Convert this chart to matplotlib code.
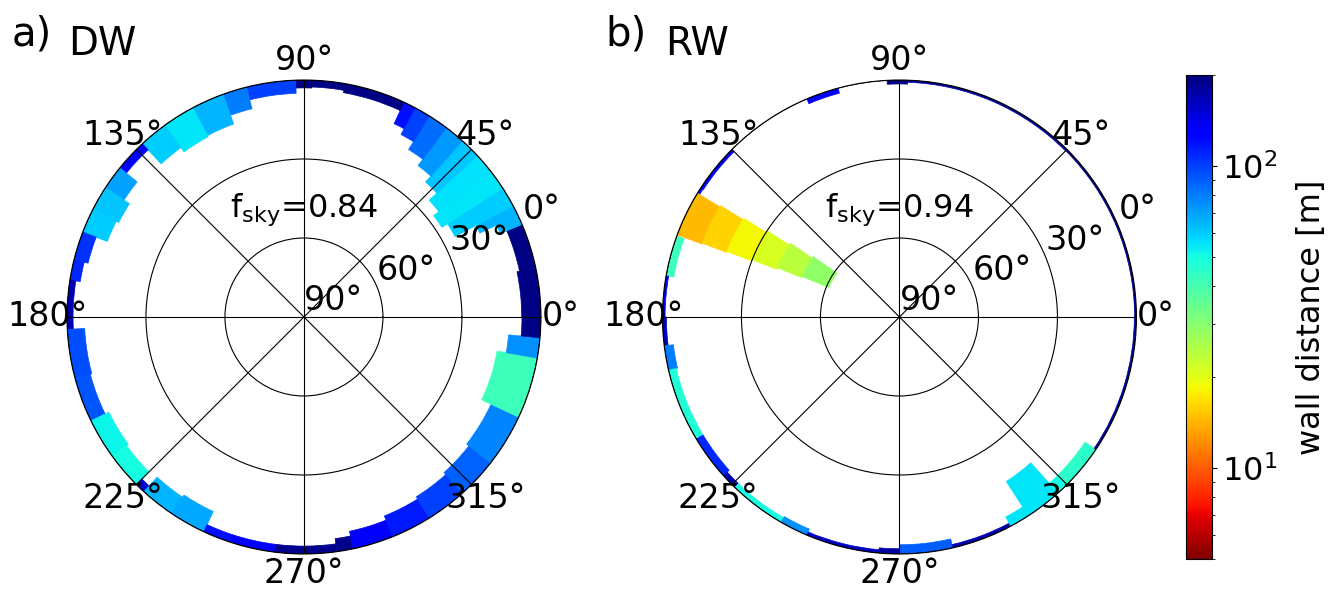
import numpy as np
import matplotlib.pyplot as plt
from matplotlib.colors import LogNorm

# wall segments: azimuth edges [deg], wall top elevation [deg], wall distance [m]
dw_az_edges = [0, 12, 23, 25.5, 28, 33, 38, 43, 48, 53, 58, 62, 65, 80, 88, 92,
               104, 110, 118, 126, 133, 141, 147, 153, 159, 166, 171, 183, 195,
               206, 216, 225, 227.5, 236, 245, 252, 263, 278, 282, 292, 302, 312,
               322, 335, 350, 355, 360]
dw_elev = [7.3, 6.3, 9, 16, 25, 27.5, 25, 21, 18, 15, 11.5, 9, 3.5, 2.6, 3,
           5, 8.5, 12, 12.5, 10.5, 3.2, 8.5, 11, 10, 5.5, 4, 2.3, 6.6,
           6, 7.6, 6.8, 3, 7.5, 8.5, 3, 3, 3, 5, 6.8, 8.5, 9.5,
           10.5, 11.6, 15.5, 12, 7.2]
dw_dist = [195, 195, 65, 65, 60, 55, 56, 62, 72, 85, 100, 120, 195, 195, 200,
           100, 80, 65, 55, 60, 130, 70, 62, 60, 105, 110, 170, 95,
           92, 52, 50, 150, 65, 68, 120, 130, 190, 190, 135, 115, 100,
           88, 78, 42, 75, 195]

rw_az_edges = [0, 45, 88, 93, 105, 113, 135, 147, 149, 160, 170, 180, 187, 193,
               211, 222, 226, 240, 247, 265, 270, 283, 298, 303, 312, 315, 326, 360]
rw_elev = [0.7, 0.8, 1.5, 0, 2, 0, 1.2, 1, 0, 3, 1, 1.5, 3.5, 3,
           3, 2, 2, 2.5, 1.3, 2, 3.5, 1.3, 4, 15.5, 5, 5, 0.8]
rw_dist = [190, 180, 195, 100, 130, 100, 140, 120, 100, 42, 130, 160, 80, 48,
           110, 170, 50, 75, 160, 180, 90, 170, 55, 55, 50, 45, 180]

# the long wall seen end-on in RW (elevation bands)
wedge_elev_edges = [0, 10, 20, 30, 40, 50, 61]
wedge_az_center = [154.1, 153.8, 153.4, 152.8, 152.0, 151.2]
wedge_az_width = [11.2, 11.4, 11.6, 11.9, 12.1, 12.4]
wedge_dist = [14.5, 16, 18.5, 21, 24, 29]

f_sky = {"DW": 0.84, "RW": 0.94}
az_ticks = [0, 45, 90, 135, 180, 225, 270, 315]

cmap = plt.get_cmap("jet_r")
norm = LogNorm(vmin=5, vmax=200)


def draw_walls(ax, edges, elev, dist):
    for i in range(len(elev)):
        if elev[i] <= 0:
            continue
        a0, a1 = np.deg2rad(edges[i]), np.deg2rad(edges[i + 1])
        c = cmap(norm(dist[i]))
        ax.bar((a0 + a1) / 2, elev[i], width=a1 - a0, bottom=90 - elev[i],
               color=c, edgecolor=c, linewidth=0.5, zorder=1.5)


def style_polar(ax, fs):
    ax.set_ylim(0, 90)
    ax.set_xticks(np.deg2rad(az_ticks))
    ax.set_xticklabels([f"{a}°" for a in az_ticks], fontsize=24)
    ax.set_yticks([0, 30, 60, 90])
    ax.set_yticklabels(["90°", "60°", "30°", "0°"], fontsize=24)
    ax.grid(True, color="k", linewidth=0.8, linestyle="-")
    ax.set_axisbelow(False)
    ax.text(0.5, 0.711, r"$\mathregular{f_{sky}}$=" + f"{fs:.2f}", fontsize=23,
            ha="center", va="baseline", transform=ax.transAxes, zorder=5)


fig = plt.figure(figsize=(13.34, 5.89), dpi=100)

ax1 = fig.add_axes([0.0502, 0.0594, 0.3553, 0.8048], projection="polar")
draw_walls(ax1, dw_az_edges, dw_elev, dw_dist)
style_polar(ax1, f_sky["DW"])

ax2 = fig.add_axes([0.4966, 0.0594, 0.3553, 0.8048], projection="polar")
draw_walls(ax2, rw_az_edges, rw_elev, rw_dist)
for j in range(len(wedge_dist)):
    c = cmap(norm(wedge_dist[j]))
    h = wedge_elev_edges[j + 1] - wedge_elev_edges[j]
    ax2.bar(np.deg2rad(wedge_az_center[j]), h, width=np.deg2rad(wedge_az_width[j]),
            bottom=90 - wedge_elev_edges[j + 1], color=c, edgecolor=c,
            linewidth=0.5, zorder=1.5)
style_polar(ax2, f_sky["RW"])

fig.text(0.009, 0.922, "a)", fontsize=29, va="baseline")
fig.text(0.051, 0.9066, "DW", fontsize=28, va="baseline")
fig.text(0.4535, 0.922, "b)", fontsize=29, va="baseline")
fig.text(0.4985, 0.9066, "RW", fontsize=28, va="baseline")

cax = fig.add_axes([0.889, 0.0509, 0.0195, 0.8217])
sm = plt.cm.ScalarMappable(norm=norm, cmap=cmap)
cb = fig.colorbar(sm, cax=cax)
cb.ax.tick_params(labelsize=23)
cb.set_label("wall distance [m]", fontsize=23, labelpad=14)

fig.savefig("out.png", dpi=100)
